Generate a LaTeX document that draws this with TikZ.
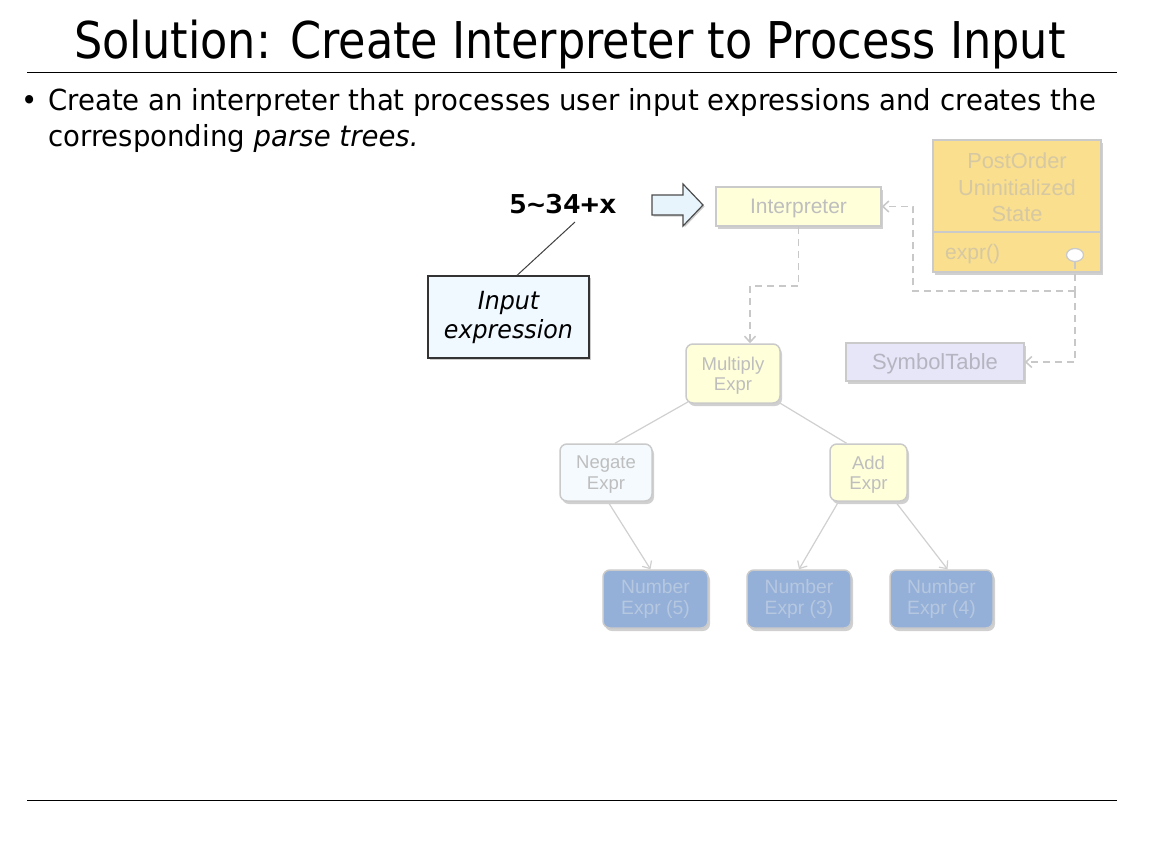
\documentclass[tikz,border=0pt]{standalone}
\usepackage{fontspec}
\setmainfont{DejaVu Sans}[FakeStretch=0.88]
\newfontfamily\bodyf{DejaVu Sans}[FakeStretch=0.95]
\newfontfamily\arialf{Liberation Sans}
\newfontfamily\monof{DejaVu Sans Mono}[FakeStretch=1.15]
\usetikzlibrary{shapes.geometric,shadows,arrows.meta}
\definecolor{boxborder}{HTML}{CACACA}
\definecolor{boxtext}{HTML}{BEBEBE}
\definecolor{yfill}{HTML}{FFFFDA}
\definecolor{negfill}{HTML}{F4FAFE}
\definecolor{numfill}{HTML}{94B0D8}
\definecolor{numtext}{HTML}{B6C7E0}
\definecolor{postfill}{HTML}{F9DF8E}
\definecolor{posttext}{HTML}{D6C8A2}
\definecolor{symfill}{HTML}{E6E6F8}
\definecolor{inpfill}{HTML}{F0F9FF}
\definecolor{arrfill}{HTML}{E8F4FC}
\definecolor{linegrey}{HTML}{C8C8C8}
\newcommand{\lowertext}[1]{\raisebox{-2pt}[\height][\depth]{#1}}
\tikzset{
  box/.style={draw=boxborder, line width=1.5pt, fill=#1, text=boxtext, align=center,
    font=\arialf\fontsize{21}{24}\selectfont,
    drop shadow={shadow xshift=2pt, shadow yshift=-3pt, opacity=0.3, fill=black!60}},
  rbox/.style={box=#1, rounded corners=7pt, font=\arialf\fontsize{18.5}{20.5}\selectfont},
  numbox/.style={rbox=numfill, text=numtext, minimum height=58, font=\arialf\fontsize{19.3}{21}\selectfont},
  dsh/.style={draw=linegrey, line width=1.5pt, dash pattern=on 7pt off 5pt},
  treeline/.style={draw=linegrey!85, line width=1.2pt},
  tip/.style={-{Straight Barb[length=6pt,width=11pt]}},
  bodytext/.style={anchor=base west, font=\bodyf\fontsize{29}{34}\selectfont, inner sep=0pt},
}
\begin{document}
\begin{tikzpicture}[x=1pt,y=-1pt]
\useasboundingbox (0,0) rectangle (1168,844);
\fill[white] (0,0) rectangle (1168,844);
% title and rules
\node[anchor=base, font=\fontsize{50.7}{60}\selectfont] (title) at (570,58) {Solution: Create Interpreter to Process Input};
\draw[line width=1pt] (27,72) -- (1117,72);
\draw[line width=1pt] (27,800) -- (1117,800);
% bullet
\node[bodytext] (bul) at (21,110) {\textbullet};
\node[bodytext] (l1) at (48,110) {Create an interpreter that processes user input expressions and creates the};
\node[bodytext] (l2) at (48,146) {corresponding \textit{parse trees.}};
% input expression
\node[font=\monof\bfseries\fontsize{26}{30}\selectfont, inner sep=0pt] (expr) at (563,204) {5\symbol{"7E}34+x};
\node[draw=black!80, line width=1.2pt, fill=inpfill, minimum width=161, minimum height=82, align=center,
  font=\bodyf\itshape\fontsize{25}{29}\selectfont,
  drop shadow={shadow xshift=2pt, shadow yshift=-2pt, opacity=0.2, fill=black}] (input) at (508.5,317) {Input\\expression};
\coordinate (calloutend) at (575,222);
\draw[line width=1pt, black!75] (input.north) ++(8.5,0) -- (calloutend);
% hollow arrow
\draw[draw=black!70, line width=1.2pt, fill=arrfill, line join=miter,
  drop shadow={shadow xshift=1.5pt, shadow yshift=-1.5pt, opacity=0.2, fill=black}]
  (652,195) -- (683,195) -- (683,184) -- (703,205) -- (683,226) -- (683,215) -- (652,215) -- cycle;
% main boxes
\node[box=yfill, minimum width=165, minimum height=39] (interp) at (798.5,206.5) {\lowertext{Interpreter}};
\node[box=postfill, minimum width=168, minimum height=132, text=posttext] (post) at (1017,206) {};
\node[text=posttext, align=center, font=\arialf\fontsize{21.8}{26.5}\selectfont] (posttitle) at (1017,187.5) {PostOrder\\Uninitialized\\State};
\draw[boxborder, line width=1.5pt] (post.west |- 0,232) -- (post.east |- 0,232);
\node[anchor=west, text=posttext, font=\arialf\fontsize{21}{24}\selectfont, inner sep=0pt] (exprm) at (945,254) {expr()};
\node[draw=boxborder, line width=1.3pt, fill=white, ellipse, minimum width=17, minimum height=13, inner sep=0pt] (circ) at (1075,255) {};
\node[box=symfill, minimum width=178, minimum height=38, text=boxtext!95!blue, font=\arialf\fontsize{22}{24}\selectfont] (sym) at (935,362) {\lowertext{SymbolTable}};
% tree nodes
\node[rbox=yfill, minimum width=94, minimum height=59] (mult) at (733,373.5) {\lowertext{Multiply}\\\lowertext{Expr}};
\node[rbox=negfill, minimum width=92, minimum height=57] (neg) at (606,472.5) {\lowertext{Negate}\\\lowertext{Expr}};
\node[rbox=yfill, minimum width=77, minimum height=57] (add) at (868.5,472.5) {\lowertext{Add}\\\lowertext{Expr}};
\node[numbox, minimum width=105] (num5) at (655.5,599) {Number\\Expr (5)};
\node[numbox, minimum width=104] (num3) at (799,599) {Number\\Expr (3)};
\node[numbox, minimum width=103] (num4) at (941.5,599) {Number\\Expr (4)};
% dashed connectors
\draw[dsh, tip] (interp.south) -- ++(0,59) -| ([xshift=17pt]mult.north);
\coordinate (junc) at (circ.south |- 0,291);
\draw[dsh] (circ.south) -- (junc);
\draw[dsh, tip] (junc) -| ([xshift=31pt]interp.east) -- (interp.east);
\draw[dsh, tip] (junc) |- (sym.east);
% tree connectors
\draw[treeline] (mult.south west) ++(3,-2) -- ([xshift=9pt]neg.north);
\draw[treeline] (mult.south east) ++(-3,-2) -- ([xshift=-22pt]add.north);
\draw[treeline, tip] ([xshift=2pt]neg.south) -- ([xshift=-5pt]num5.north);
\draw[treeline, tip] ([xshift=-30pt]add.south) -- (num3.north);
\draw[treeline, tip] ([xshift=27pt]add.south) -- ([xshift=6pt]num4.north);
\end{tikzpicture}
\end{document}
